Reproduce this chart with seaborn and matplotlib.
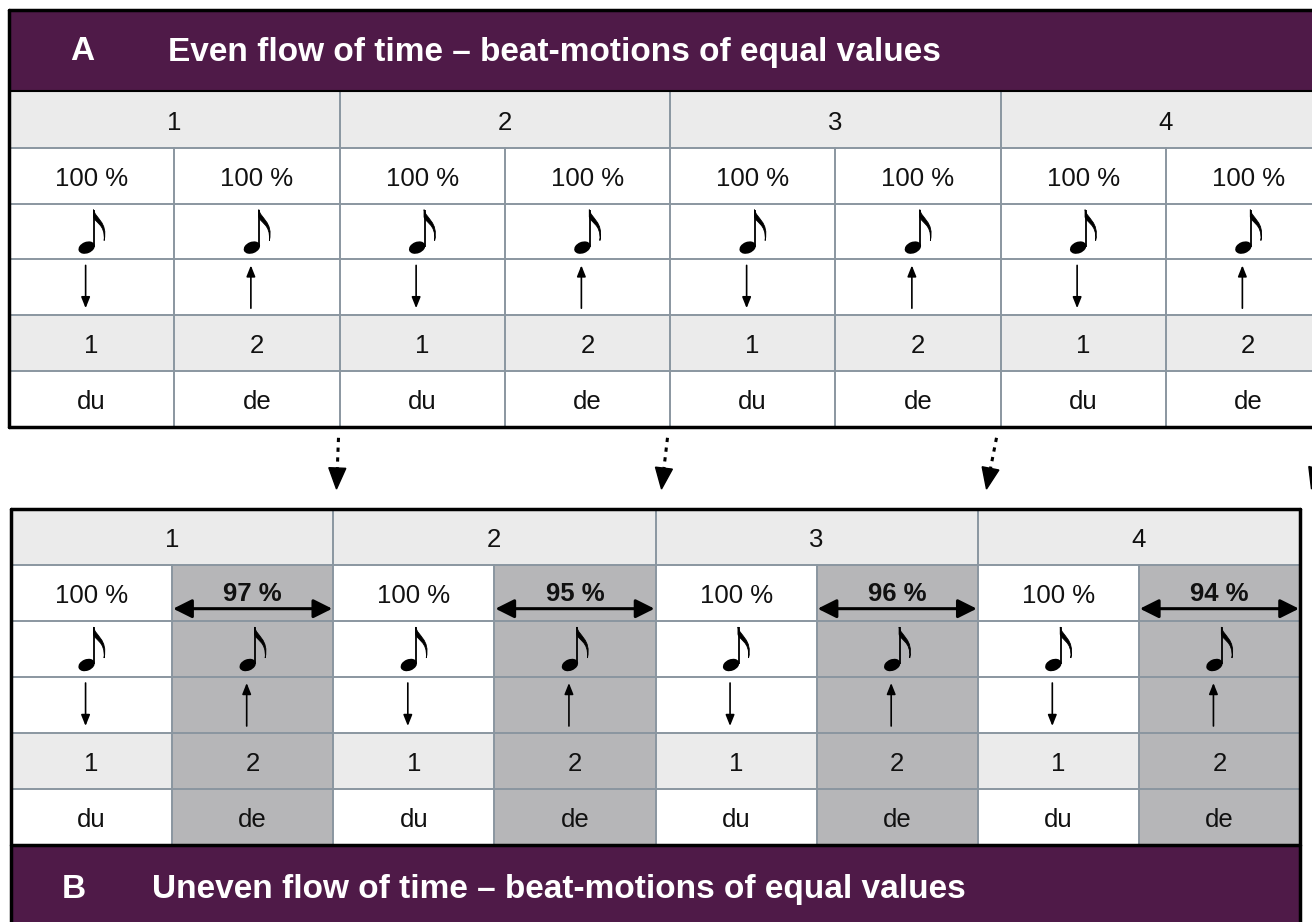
import numpy as np
import matplotlib
matplotlib.use('Agg')
import matplotlib.pyplot as plt
import seaborn as sns
from matplotlib.patches import Rectangle, Polygon, Ellipse, PathPatch
from matplotlib.path import Path

# --- Data ---
beats = ['1', '2', '3', '4']
counts = ['1', '2']
syllables = ['du', 'de']
motions = ['down', 'up']
even_pct = [100, 100, 100, 100, 100, 100, 100, 100]
uneven_pct = [100, 97, 100, 95, 100, 96, 100, 94]
label_a = 'A'
title_a = 'Even flow of time – beat-motions of equal values'
label_b = 'B'
title_b = 'Uneven flow of time – beat-motions of equal values'

# --- Style ---
PURPLE = '#4F1A48'
LIGHT = '#EBEBEB'
SHADE = '#B6B6B8'
GRID = '#8A96A0'
BODY_PT = 18.5
TITLE_PT = 24

sns.set_theme(style='white')
plt.rcParams['font.family'] = ['Liberation Sans', 'DejaVu Sans']

fig = plt.figure(figsize=(13.12, 9.22), dpi=100)
ax = fig.add_axes([0, 0, 1, 1])
ax.set_xlim(0, 1312)
ax.set_ylim(922, 0)
ax.axis('off')


def eighth_note(cx, top):
    """Eighth note drawn in pixel units: head, stem, flag."""
    ax.add_patch(Ellipse((cx - 5, top + 44), 17, 11.5, angle=-22, fc='black', ec='none'))
    sx = cx + 2.5
    ax.plot([sx, sx], [top + 43, top + 6], color='black', lw=1.3,
            solid_capstyle='butt')
    flag = Path([(sx - 0.6, top + 6), (sx + 1, top + 15), (sx + 14, top + 18),
                 (sx + 10, top + 37), (sx + 11.5, top + 20), (sx + 0, top + 19),
                 (sx - 0.6, top + 13), (sx - 0.6, top + 6)],
                [Path.MOVETO, Path.CURVE4, Path.CURVE4, Path.CURVE4,
                 Path.CURVE4, Path.CURVE4, Path.CURVE4, Path.CLOSEPOLY])
    ax.add_patch(PathPatch(flag, fc='black', ec='black', lw=0.6))


def motion_arrow(x, ytop, ybot, direction):
    if direction == 'down':
        start, end = (x, ytop), (x, ybot)
    else:
        start, end = (x, ybot), (x, ytop)
    ax.annotate('', xy=end, xytext=start,
                arrowprops=dict(arrowstyle='-|>,head_length=0.55,head_width=0.22',
                                lw=1.2, color='black', mutation_scale=12,
                                shrinkA=0, shrinkB=0))


def cell_text(x, y, s, bold=False):
    ax.text(x, y, s, ha='center', va='center', fontsize=BODY_PT,
            fontweight='bold' if bold else 'normal', color='#111111')


def draw_table(x0, y0, beat_w, row_h, pct, shaded):
    half = beat_w / 2
    rows = [y0 + k * row_h for k in range(7)]
    n = len(pct)
    mid = row_h / 2 + 3
    for b, lab in enumerate(beats):
        bx = x0 + b * beat_w
        ax.add_patch(Rectangle((bx, rows[0]), beat_w, row_h, fc=LIGHT, ec='none'))
        cell_text(bx + half, rows[0] + mid, lab)
    for i in range(n):
        cx0 = x0 + i * half
        is_de = i % 2 == 1
        for r in range(1, 6):
            fc = LIGHT if r == 4 else 'white'
            if shaded and is_de and pct[i] != 100:
                fc = SHADE
            ax.add_patch(Rectangle((cx0, rows[r]), half, row_h, fc=fc, ec='none'))
        cx = cx0 + half / 2
        # percent row
        if pct[i] == 100:
            cell_text(cx, rows[1] + mid, f'{pct[i]} %')
        else:
            cell_text(cx, rows[1] + mid - 2, f'{pct[i]} %', bold=True)
            ya = rows[1] + row_h * 0.78
            ax.annotate('', xy=(cx0 + half - 1, ya), xytext=(cx0 + 1, ya),
                        arrowprops=dict(arrowstyle='<|-|>,head_length=0.38,head_width=0.19',
                                        lw=2.2, color='black', mutation_scale=30,
                                        shrinkA=0, shrinkB=0))
        eighth_note(cx, rows[2])
        motion_arrow(cx - 6, rows[3] + 6, rows[3] + row_h - 7, motions[i % 2])
        cell_text(cx, rows[4] + mid, counts[i % 2])
        cell_text(cx, rows[5] + mid, syllables[i % 2])
    # grid
    for r in range(1, 6):
        ax.plot([x0, x0 + 4 * beat_w], [rows[r], rows[r]], color=GRID, lw=1.4)
    for i in range(1, n):
        ytop = rows[0] if i % 2 == 0 else rows[1]
        ax.plot([x0 + i * half, x0 + i * half], [ytop, rows[6]], color=GRID, lw=1.4)
    return rows


# ---------- Table A ----------
xa, beat_wa = 9, 330.5
ax.add_patch(Rectangle((xa, 10), 1320, 81, fc=PURPLE, ec='none'))
rows_a = draw_table(xa, 92, beat_wa, 55.8, even_pct, False)
ax.text(82, 52, label_a, ha='center', va='center', fontsize=TITLE_PT,
        fontweight='bold', color='white')
ax.text(168, 52, title_a, ha='left', va='center', fontsize=TITLE_PT,
        fontweight='bold', color='white')
ax.plot([xa, 1320], [10, 10], color='black', lw=2.5)
ax.plot([xa, 1320], [91, 91], color='black', lw=1.5)
ax.plot([xa, 1320], [rows_a[6], rows_a[6]], color='black', lw=2.5)
ax.plot([xa, xa], [10, rows_a[6]], color='black', lw=2.5)

# ---------- Table B ----------
xb, beat_wb = 11, 322.25
rows_b = draw_table(xb, 509, beat_wb, 56, uneven_pct, True)
ax.add_patch(Rectangle((xb, rows_b[6]), 4 * beat_wb, 80, fc=PURPLE, ec='none'))
ax.text(74, rows_b[6] + 44, label_b, ha='center', va='center', fontsize=TITLE_PT,
        fontweight='bold', color='white')
ax.text(152, rows_b[6] + 44, title_b, ha='left', va='center', fontsize=TITLE_PT,
        fontweight='bold', color='white')
xr = xb + 4 * beat_wb
ax.plot([xb, xr], [509, 509], color='black', lw=2.5)
ax.plot([xb, xr], [rows_b[6], rows_b[6]], color='black', lw=2.5)
ax.plot([xb, xb], [509, 925], color='black', lw=2.5)
ax.plot([xr, xr], [509, 925], color='black', lw=2.5)

# ---------- Dotted connecting arrows ----------
for b in range(len(beats)):
    top_x = xa + (b + 1) * beat_wa - 1 - 1.5 * b
    tip_x = xa + (b + 1) * beat_wa - 3 - 5.5 * b
    y_start, y_tip = rows_a[6] + 11, 489
    d = np.array([tip_x - top_x, y_tip - y_start], dtype=float)
    d /= np.hypot(*d)
    base = np.array([tip_x, y_tip]) - d * 21
    perp = np.array([-d[1], d[0]])
    ax.plot([top_x, base[0]], [y_start, base[1]], color='black', lw=2.2,
            linestyle=(0, (1.4, 1.8)), solid_capstyle='butt')
    ax.add_patch(Polygon([[tip_x, y_tip], base + perp * 8.5, base - perp * 8.5],
                         closed=True, fc='black', ec='black'))

fig.savefig('out.png', dpi=100)
